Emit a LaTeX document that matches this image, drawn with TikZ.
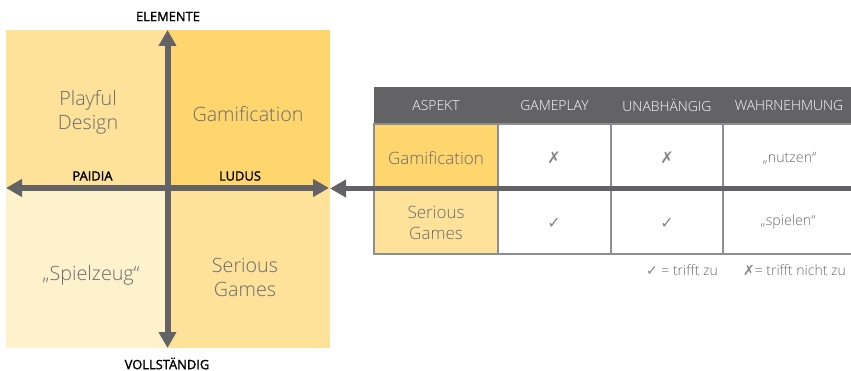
\documentclass[tikz,border=0pt]{standalone}
\usepackage{fontspec}
\setmainfont{Open Sans Light}
\newfontfamily\symfont{DejaVu Sans}
\newfontfamily\axfont[FakeBold=1.6]{Open Sans}
\usetikzlibrary{arrows.meta}
\definecolor{dk}{HTML}{636365}
\definecolor{txt}{HTML}{6A6A6D}
\definecolor{symc}{HTML}{85858A}
\definecolor{strong}{HTML}{FFD66E}
\definecolor{midc}{HTML}{FEE29A}
\definecolor{light}{HTML}{FEF2CD}
\definecolor{gridc}{HTML}{8E8E8E}
\tikzset{
  x=1pt,y=-1pt,
  quad/.style={anchor=north west,inner sep=0pt,outer sep=0pt,align=center,text=txt,font=\fontsize{19.7}{24}\selectfont},
  axis/.style={dk,line width=5.5pt,-{Triangle[length=16pt,width=17pt]}},
  axlabel/.style={inner sep=0pt,text=black,font=\axfont\fontsize{12.9}{14}\selectfont},
  cell/.style={anchor=north west,inner sep=0pt,outer sep=0pt,draw=gridc,line width=1.2pt,align=center,text=txt,font=\fontsize{14.2}{15}\selectfont},
  head/.style={anchor=north west,inner sep=0pt,outer sep=0pt,fill=dk,text=white,font=\fontsize{13.9}{14}\selectfont},
  tcell/.style={cell,font=\fontsize{17}{21}\selectfont},
  symb/.style={cell,draw=none,anchor=center,text=symc,font=\symfont\fontsize{16}{18}\selectfont},
  note/.style={inner sep=0pt,text=txt,font=\fontsize{14}{15}\selectfont},
}
\begin{document}
\begin{tikzpicture}
\useasboundingbox (0,0) rectangle (851,371);
% quadrants
\node[quad,fill=midc,minimum width=161pt,minimum height=158pt] (q1) at (6,30) {};
\node[quad,fill=strong,minimum width=163pt,minimum height=158pt] (q2) at (167,30) {};
\node[quad,fill=light,minimum width=161pt,minimum height=160pt] (q3) at (6,188) {};
\node[quad,fill=midc,minimum width=163pt,minimum height=160pt] (q4) at (167,188) {};
\node[quad,anchor=center] (t1) at (88,112) {Playful\\Design};
\node[quad,anchor=center] (t2) at (248,114) {Gamification};
\node[quad,anchor=center] (t3) at (91,275) {„Spielzeug“};
\node[quad,anchor=center] (t4) at (245,277) {Serious\\Games};
% table
\node[head,minimum width=124pt,minimum height=37pt] (h1) at (374,87) {ASPEKT};
\node[head,minimum width=113pt,minimum height=37pt] (h2) at (498,87) {GAMEPLAY};
\node[head,minimum width=112pt,minimum height=37pt] (h3) at (611,87) {UNABHÄNGIG};
\node[head,minimum width=132pt,minimum height=37pt] (h4) at (723,87) {WAHRNEHMUNG};
\node[tcell,fill=strong,minimum width=124pt,minimum height=63pt] (a1) at (374,124) {};
\node[tcell,fill=midc,minimum width=124pt,minimum height=67pt] (a2) at (374,187) {};
\node[cell,minimum width=113pt,minimum height=63pt] (b1) at (498,124) {};
\node[cell,minimum width=113pt,minimum height=67pt] (b2) at (498,187) {};
\node[cell,minimum width=112pt,minimum height=63pt] (c1) at (611,124) {};
\node[cell,minimum width=112pt,minimum height=67pt] (c2) at (611,187) {};
\node[cell,minimum width=129pt,minimum height=63pt] (d1) at (723,124) {};
\node[cell,minimum width=129pt,minimum height=67pt] (d2) at (723,187) {};
\node[tcell,draw=none,anchor=center] (ta1) at (436,158) {Gamification};
\node[tcell,draw=none,anchor=center] (ta2) at (436,222.5) {Serious\\Games};
\node[symb] (tb1) at (554,158) {✗};
\node[symb] (tb2) at (554,223) {✓};
\node[symb] (tc1) at (667,158) {✗};
\node[symb] (tc2) at (667,223) {✓};
\node[cell,draw=none,anchor=center] (td1) at (789.5,158) {„nutzen“};
\node[cell,draw=none,anchor=center] (td2) at (788,222) {„spielen“};
\node[note,anchor=east] (n1) at (718,270) {{\symfont\color{symc} ✓} = trifft zu};
\node[note,anchor=east] (n2) at (846,270) {{\symfont\color{symc} ✗}= trifft nicht zu};
% axes
\coordinate (axW) at (6,188);
\coordinate (axE) at (329,188);
\coordinate (axN) at (167.5,30);
\coordinate (axS) at (167.5,348);
\coordinate (axC) at (167.5,188);
\coordinate (tabE) at (851,188.5);
\coordinate (tabW) at (330,188.5);
\draw[axis] (axC) -- (axW);
\draw[axis] (axC) -- (axE);
\draw[axis,line width=6pt] (axC) -- (axN);
\draw[axis,line width=6pt] (axC) -- (axS);
\draw[axis] (tabE) -- (tabW);
% axis labels
\node[axlabel] (l1) at (168,16.5) {ELEMENTE};
\node[axlabel] (l2) at (167,363.5) {VOLLSTÄNDIG};
\node[axlabel] (l3) at (92.5,176) {PAIDIA};
\node[axlabel] (l4) at (240,176) {LUDUS};
\end{tikzpicture}
\end{document}
